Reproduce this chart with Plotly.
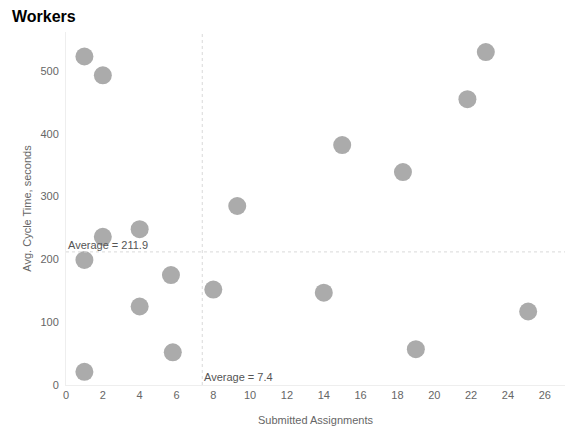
import plotly.graph_objects as go

# workers: submitted assignments vs average cycle time
submitted = [1, 2, 22.8, 21.8, 15, 18.3, 9.3, 4, 2, 1, 5.7, 8, 4, 5.8, 1, 14, 19, 25.1]
cycle_time = [523, 493, 530, 455, 382, 339, 285, 248, 236, 199, 175, 152, 125, 52, 21, 147, 57, 117]

avg_submitted = 7.4
avg_cycle = 211.9

x_ticks = list(range(0, 27, 2))
y_ticks = [0, 100, 200, 300, 400, 500]

fig = go.Figure()
fig.add_trace(go.Scatter(
    x=submitted, y=cycle_time, mode="markers",
    marker=dict(size=18, color="#ababab", line=dict(width=0)),
    hoverinfo="x+y", showlegend=False,
))

# average reference lines
fig.add_shape(type="line", xref="x", yref="paper", x0=avg_submitted, x1=avg_submitted, y0=0, y1=1,
              line=dict(color="#d9d9d9", width=1, dash="dot"))
fig.add_shape(type="line", xref="paper", yref="y", x0=0, x1=1, y0=avg_cycle, y1=avg_cycle,
              line=dict(color="#d9d9d9", width=1, dash="dot"))

fig.add_annotation(x=0, y=avg_cycle, text="Average = %.1f" % avg_cycle, showarrow=False,
                   xanchor="left", yanchor="bottom", yshift=-1,
                   font=dict(size=11, color="#555555"))
fig.add_annotation(x=avg_submitted, y=0, text="Average = %.1f" % avg_submitted, showarrow=False,
                   xanchor="left", yanchor="bottom", yshift=0,
                   font=dict(size=11, color="#555555"))

# page body adds 8px around the figure, so size it to fit the window
fig.update_layout(
    width=565, height=422,
    margin=dict(l=58, r=8, t=24, b=45, autoexpand=False),
    paper_bgcolor="white", plot_bgcolor="white",
    font=dict(family="Liberation Sans, Arial, sans-serif", size=11, color="#666666"),
    title=dict(text="<b>Workers</b>", x=4 / 565, xanchor="left", yref="container", y=1, yanchor="top",
               pad=dict(t=3, l=0), font=dict(size=16, color="#000000")),
    xaxis=dict(range=[0, 27.1], tickvals=x_ticks, showgrid=False, zeroline=False,
               showline=True, linecolor="#eeeeee", linewidth=1, ticks="", ticklabelstandoff=0,
               title=dict(text="Submitted Assignments", standoff=16, font=dict(size=11, color="#666666"))),
    yaxis=dict(range=[0, 562], tickvals=y_ticks, showgrid=False, zeroline=False,
               showline=True, linecolor="#eeeeee", linewidth=1, ticks="", ticklabelstandoff=4,
               title=dict(text="Avg. Cycle Time, seconds", standoff=6, font=dict(size=11, color="#666666"))),
)

fig.write_html("out.html")
